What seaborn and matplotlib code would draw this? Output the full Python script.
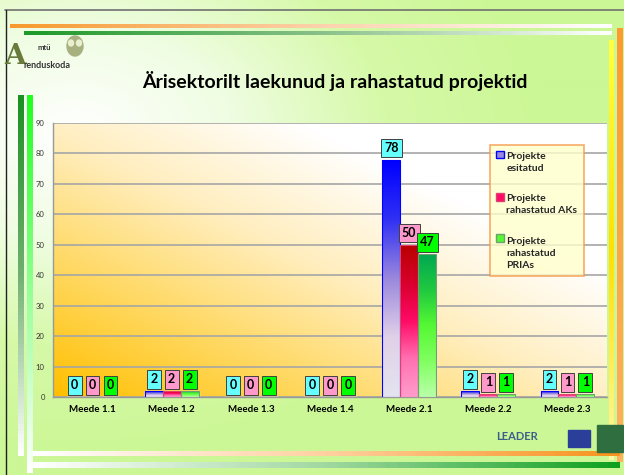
import numpy as np
import pandas as pd
import matplotlib
matplotlib.use("Agg")
import matplotlib.pyplot as plt
import seaborn as sns
from matplotlib.colors import LinearSegmentedColormap
from matplotlib.patches import Rectangle, Patch, Ellipse
from matplotlib.legend_handler import HandlerPatch

# ---- data ----
categories = ["Meede 1.1", "Meede 1.2", "Meede 1.3", "Meede 1.4", "Meede 2.1", "Meede 2.2", "Meede 2.3"]
series_names = ["Projekte\nesitatud", "Projekte\nrahastatud AKs", "Projekte\nrahastatud\nPRIAs"]
esitatud = [0, 2, 0, 0, 78, 2, 2]
rahastatud_aks = [0, 2, 0, 0, 50, 1, 1]
rahastatud_prias = [0, 2, 0, 0, 47, 1, 1]
title = "Ärisektorilt laekunud ja rahastatud projektid"
y_ticks = list(range(0, 100, 10))

df = pd.DataFrame({
    "Meede": categories * 3,
    "Series": [series_names[0]] * 7 + [series_names[1]] * 7 + [series_names[2]] * 7,
    "Value": esitatud + rahastatud_aks + rahastatud_prias,
})

sns.set_style("white")
plt.rcParams["font.family"] = ["Lato", "DejaVu Sans"]

fig = plt.figure(figsize=(6.24, 4.75), dpi=100)

# slide background
bg = fig.add_axes([0, 0, 1, 1], zorder=-10)
bg.set_axis_off()
gx = np.linspace(0, 1, 240)
gy = np.linspace(0, 1, 180)
GX, GY = np.meshgrid(gx, gy)
d = np.sqrt(((GX - 0.12) / 1.0) ** 2 + ((GY - 0.72) / 0.9) ** 2)
t = np.clip(d / 0.75, 0, 1)
slide_cmap = LinearSegmentedColormap.from_list("slide", ["#ffffff", "#effde2", "#d6f9a8", "#ccf796"])
bg.imshow(t, cmap=slide_cmap, extent=[0, 1, 0, 1], aspect="auto", origin="lower")
bg.set_xlim(0, 1); bg.set_ylim(0, 1)

W, H = 624.0, 475.0
def fx(px): return px / W
def fy(py): return 1 - py / H

# decorative frame
bg.plot([fx(5), fx(624)], [fy(10), fy(10)], color="#707070", lw=1.2)
bg.plot([fx(6), fx(6)], [fy(10), fy(475)], color="#202020", lw=1.0)
oc = LinearSegmentedColormap.from_list("o", ["#f79a2e", "#fcd0a8", "#ffffff"])
bg.imshow(np.linspace(0, 1, 100)[None, :], cmap=oc, extent=[fx(10), fx(612), fy(28), fy(24)], aspect="auto")
gc = LinearSegmentedColormap.from_list("g", ["#1e9a2a", "#88c088", "#ffffff"])
bg.imshow(np.linspace(0, 1, 100)[None, :], cmap=gc, extent=[fx(24), fx(612), fy(35), fy(31)], aspect="auto")
yc = LinearSegmentedColormap.from_list("y", ["#ffff40", "#ffe000", "#fff8a0"])
bg.imshow(np.linspace(0, 1, 100)[:, None], cmap=yc, extent=[fx(609), fx(614), fy(460), fy(40)], aspect="auto")
bg.imshow(np.linspace(0, 1, 100)[:, None], cmap=LinearSegmentedColormap.from_list("r", ["#ff9a30", "#ffb060"]),
          extent=[fx(617), fx(623), fy(462), fy(28)], aspect="auto")
bg.imshow(np.linspace(0, 1, 100)[None, :], cmap=LinearSegmentedColormap.from_list("b1", ["#ffffff", "#ffd0a0", "#f7931e"]),
          extent=[fx(33), fx(620), fy(456), fy(451)], aspect="auto")
bg.imshow(np.linspace(0, 1, 100)[None, :], cmap=LinearSegmentedColormap.from_list("b2", ["#ffffff", "#a0d8a0", "#10a020"]),
          extent=[fx(33), fx(620), fy(468), fy(463)], aspect="auto")
bg.imshow(np.linspace(0, 1, 100)[:, None], cmap=LinearSegmentedColormap.from_list("lg1", ["#1a9020", "#70b070", "#ffffff"]),
          extent=[fx(18), fx(24), fy(456), fy(95)], aspect="auto")
bg.imshow(np.linspace(0, 1, 100)[:, None], cmap=LinearSegmentedColormap.from_list("lg2", ["#20ff20", "#90ff90", "#ffffff"]),
          extent=[fx(27), fx(33), fy(473), fy(95)], aspect="auto")

# logos
fig.text(fx(4), fy(56), "A", fontsize=20, fontweight="bold", color="#6a7a3a", ha="left", va="center",
         family=["DejaVu Serif"])
fig.text(fx(37), fy(47), "mtü", fontsize=5.5, fontweight="bold", color="#333333", ha="left", va="center")
fig.text(fx(24), fy(66), "renduskoda", fontsize=6.5, fontweight="bold", color="#333333", ha="left", va="center")
bg.add_patch(Ellipse((fx(75), fy(46)), fx(16), fy(36) - fy(56), color="#a8b080"))
bg.add_patch(Ellipse((fx(71), fy(43)), fx(5), fy(40) - fy(46), color="#e8f0d0"))
bg.add_patch(Ellipse((fx(79), fy(43)), fx(5), fy(40) - fy(46), color="#e8f0d0"))
fig.text(fx(517), fy(437), "LEADER", fontsize=8, fontweight="bold", color="#3a5f8a", ha="center", va="center")
bg.add_patch(Rectangle((fx(568), fy(447)), fx(22), fy(430) - fy(447), color="#2a3f9a"))
bg.add_patch(Rectangle((fx(597), fy(452)), fx(26), fy(425) - fy(452), color="#2f6f3f"))

# title
fig.text(fx(335), fy(81), title, fontsize=14, fontweight="bold", ha="center", va="center", color="#000000")

# main axes
ax = fig.add_axes([fx(53), fy(397), fx(607) - fx(53), fy(123) - fy(397)])
ax.set_facecolor("none")

px = np.linspace(0, 1, 200)
py = np.linspace(0, 1, 200)
PX, PY = np.meshgrid(px, py)
s = np.clip((PX + PY) / 1.45, 0, 1)
area_cmap = LinearSegmentedColormap.from_list("area", ["#ffbf00", "#ffd860", "#ffeebf", "#ffffff"])
ax.imshow(s, cmap=area_cmap, extent=[0, 1, 0, 1], transform=ax.transAxes, aspect="auto",
          origin="lower", zorder=0)

palette = ["#3030ff", "#e00040", "#30d040"]
sns.barplot(data=df, x="Meede", y="Value", hue="Series", palette=palette, width=0.68,
            ax=ax, legend=False, zorder=3, saturation=1)

ax.set_ylim(0, 90)
ax.set_xlim(-0.5, 6.5)
ax.set_yticks(y_ticks)
ax.set_yticklabels([str(v) for v in y_ticks], fontsize=5.5, color="#333333")
ax.yaxis.grid(True, color="#a6a6a6", lw=1.2, zorder=1)
ax.set_axisbelow(True)
ax.set_xlabel(""); ax.set_ylabel("")
ax.set_xticks(range(len(categories)))
ax.set_xticklabels(categories, fontsize=7, fontweight="bold", color="#000000")
ax.tick_params(axis="x", length=0, pad=6)
ax.tick_params(axis="y", length=3, color="#999999", pad=3)
ax.set_xticks([i - 0.5 for i in range(len(categories) + 1)], minor=True)
ax.tick_params(axis="x", which="minor", length=4, color="#999999", direction="out")
for sp in ["top", "right"]:
    ax.spines[sp].set_visible(False)
for sp in ["left", "bottom"]:
    ax.spines[sp].set_color("#999999")
    ax.spines[sp].set_linewidth(1.0)

grad_colors = [
    ["#0000ff", "#3030f4", "#9a88dc", "#e0d0e8", "#e4e4f0"],
    ["#b80000", "#d8002c", "#ff0a66", "#ff70b0", "#ff9ccc"],
    ["#00a850", "#20c840", "#55f833", "#80ff60", "#b8ffa8"],
]
edge_colors = ["#0000ff", "#e04070", "#70a070"]
box_colors = ["#66ffff", "#ff99cc", "#00ff00"]
values_by_series = [esitatud, rahastatud_aks, rahastatud_prias]

for si, cont in enumerate(ax.containers):
    cmap = LinearSegmentedColormap.from_list(f"bar{si}", grad_colors[si][::-1])
    for bar, val in zip(cont, values_by_series[si]):
        x0 = bar.get_x(); w = bar.get_width(); h = bar.get_height()
        if h > 0:
            im = ax.imshow(np.linspace(0, 1, 100)[:, None], cmap=cmap, extent=[x0, x0 + w, 0, h],
                           aspect="auto", origin="lower", zorder=4)
            im.set_clip_path(bar)
            ax.add_patch(Rectangle((x0, 0), w, h, fill=False, edgecolor=edge_colors[si], lw=0.8, zorder=5))
        ax.annotate(f"{val:g}", (x0 + w / 2, h), xytext=(0, 4.0), textcoords="offset points",
                    ha="center", va="bottom", fontsize=9, fontweight="bold", color="#000000", zorder=6,
                    bbox=dict(boxstyle="square,pad=0.26", facecolor=box_colors[si], edgecolor="#404040", lw=0.7))

ax.set_aspect("auto")

# legend with handle aligned to first text line
LEG_FS = 7.5
LINESP = 1.45
def make_handler(nlines):
    def patch_func(legend, orig_handle, xdescent, ydescent, width, height, fontsize):
        shift = (nlines - 1) * fontsize * LINESP / 2.0
        return Rectangle((-xdescent, -ydescent + shift), width, height)
    return HandlerPatch(patch_func=patch_func)

handles = [Patch(facecolor=grad_colors[i][2], edgecolor=edge_colors[i]) for i in range(3)]
hmap = {h: make_handler(lbl.count("\n") + 1) for h, lbl in zip(handles, series_names)}
leg = ax.legend(handles, series_names, loc="upper left", bbox_to_anchor=(0.789, 0.918),
                prop={"size": LEG_FS, "weight": "bold"}, frameon=True, fancybox=False,
                labelspacing=2.05, handlelength=0.7, handleheight=0.7, handletextpad=0.25,
                borderpad=0.6, borderaxespad=0, alignment="left", handler_map=hmap)
for txt in leg.get_texts():
    txt.set_linespacing(LINESP)
leg.get_frame().set_facecolor("#ffffcc")
leg.get_frame().set_edgecolor("#f79646")
leg.get_frame().set_linewidth(1.2)
leg.set_zorder(10)

fig.savefig("out.png", dpi=100)
